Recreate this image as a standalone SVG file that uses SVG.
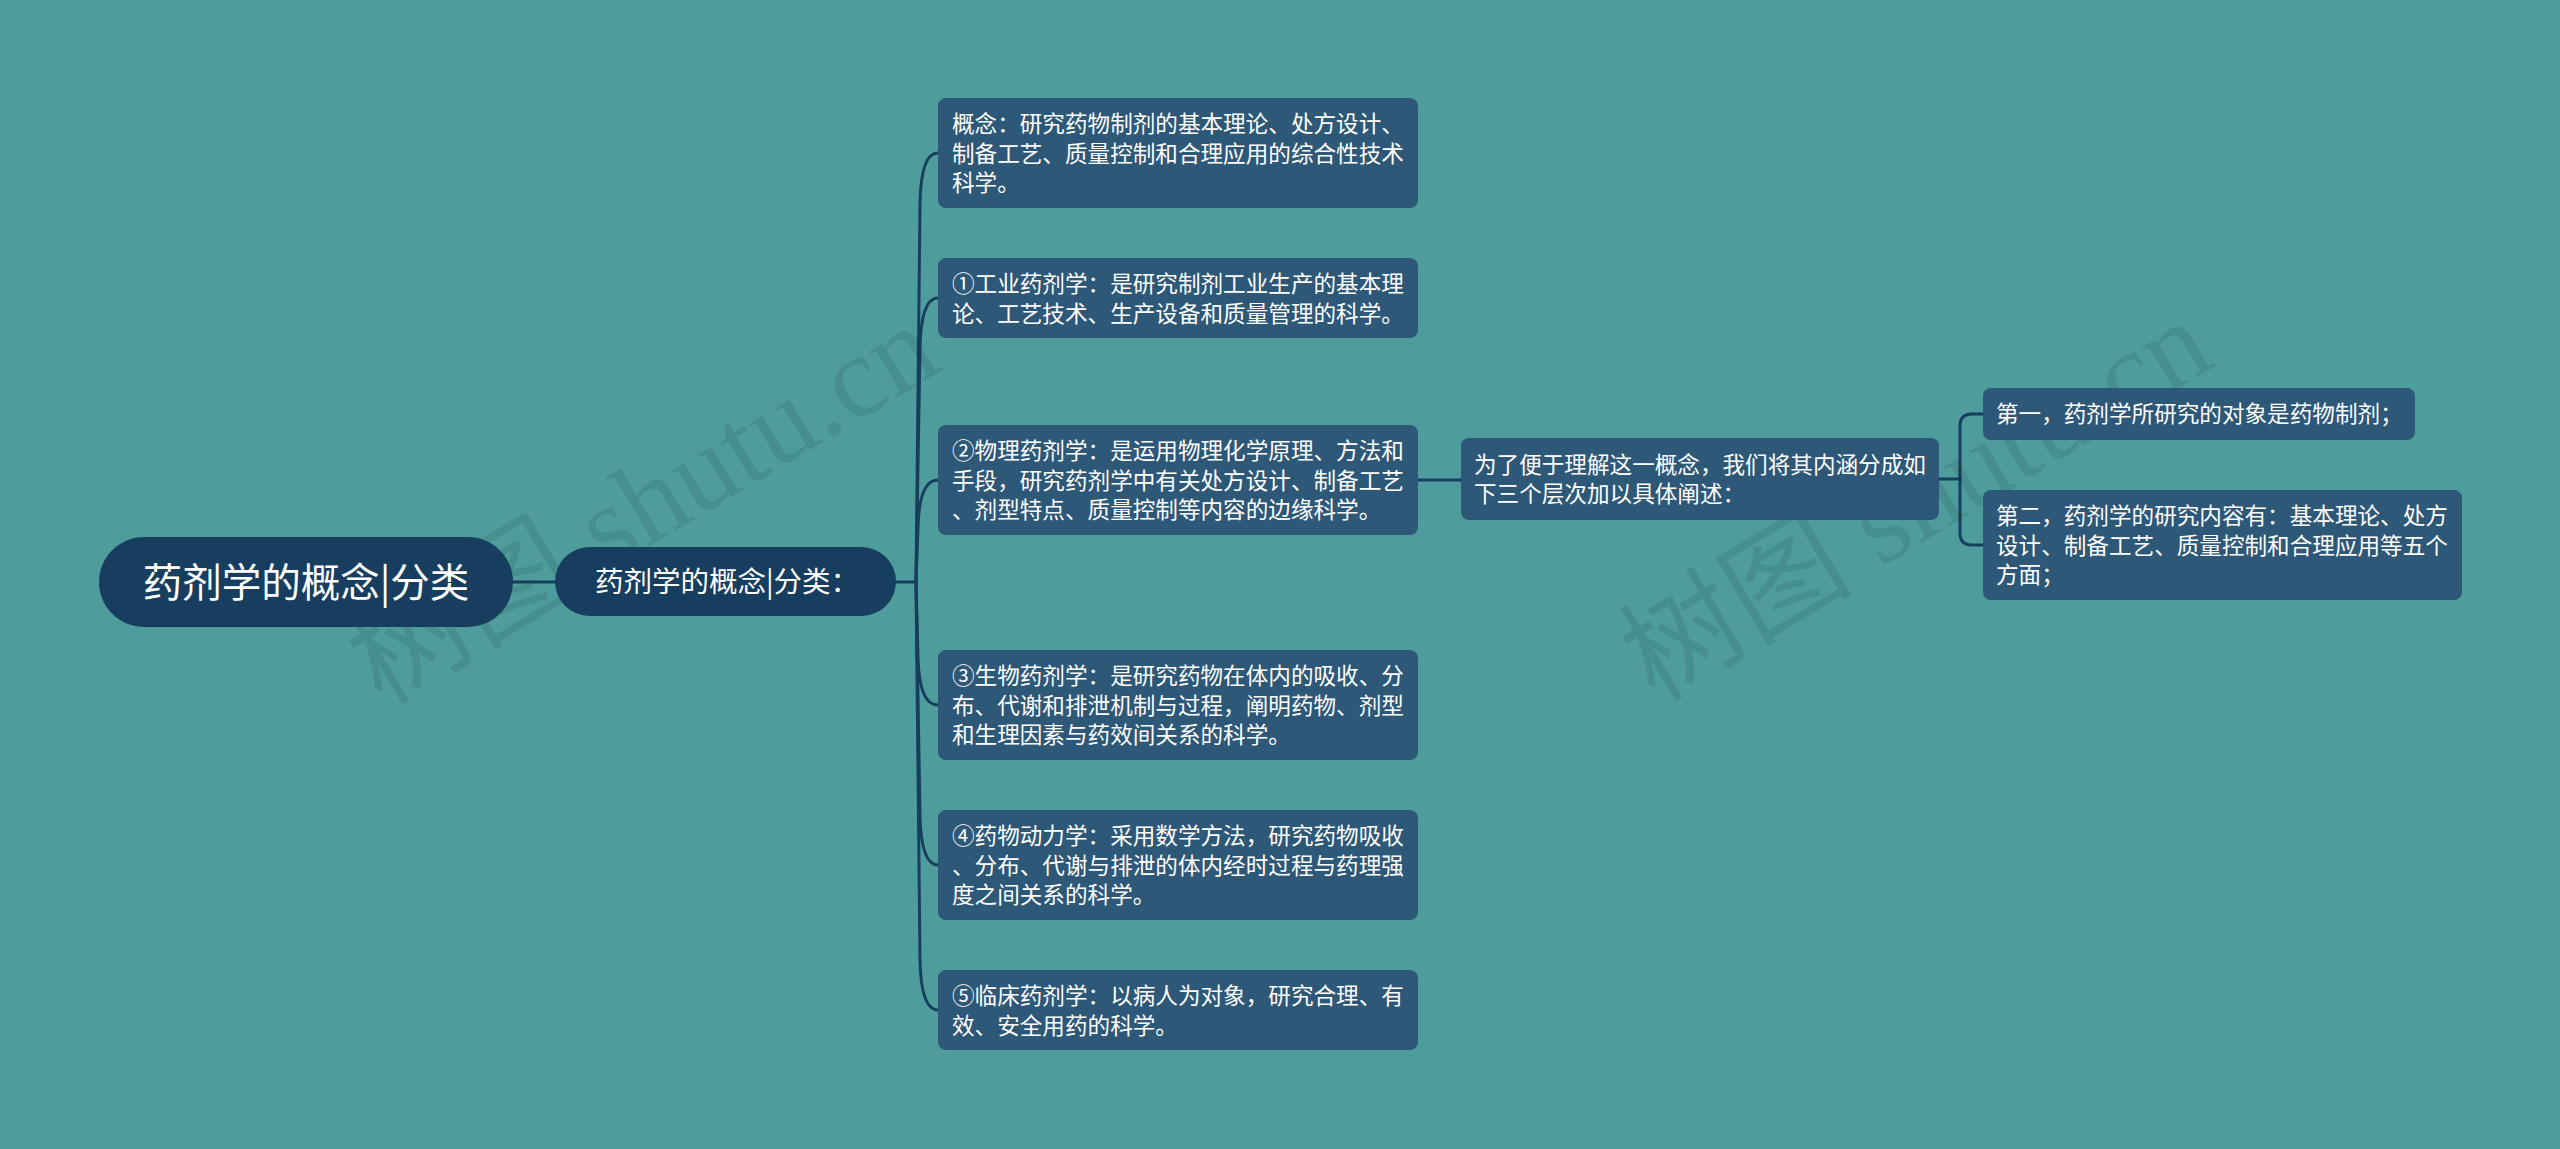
<svg xmlns="http://www.w3.org/2000/svg" width="2560" height="1149" viewBox="0 0 2560 1149">
<style>
.bg{fill:#4E9D9C}
.main{fill:#173E5E}
.box{fill:#2E5878}
.t{font-family:"Noto Sans CJK SC","Liberation Sans",sans-serif;fill:#FFFFFF}
.bt{font-size:22.6px}
.ln{fill:none;stroke:#173E5E;stroke-width:3;stroke-linecap:round}
.wm{font-family:"Liberation Serif","Noto Sans CJK SC",serif;font-size:117px;fill:#000000;fill-opacity:0.085}
</style>
<rect class="bg" x="0" y="0" width="2560" height="1149"/>

<g id="connectors">
<path class="ln" d="M512 582 L556 582"/>
<path class="ln" d="M896 582 L916 582"/>
<path class="ln" d="M916 582 L920 203 Q921 153 938 153"/>
<path class="ln" d="M916 582 L920 348 Q921 298 938 298"/>
<path class="ln" d="M916 582 L918 528 Q919 480 938 480"/>
<path class="ln" d="M916 582 L918 657 Q919 705 938 705"/>
<path class="ln" d="M916 582 L920 815 Q921 865 938 865"/>
<path class="ln" d="M916 582 L920 960 Q921 1010 938 1010"/>
<path class="ln" d="M1418 480 L1461 480"/>
<path class="ln" d="M1939 479 L1960 479 L1960 426 Q1960 414 1972 414 L1983 414"/>
<path class="ln" d="M1960 479 L1960 533 Q1960 545 1972 545 L1983 545"/>
</g>

<g id="watermark">
<text class="wm" x="663" y="538" text-anchor="middle" transform="rotate(-31 663 538)">树图 shutu.cn</text>
<text class="wm" x="1936" y="534" text-anchor="middle" transform="rotate(-31 1936 534)">树图 shutu.cn</text>
</g>

<g id="root">
<rect class="main" x="99" y="537" width="414" height="90" rx="45"/>
<text class="t" x="306" y="597" font-size="39.5" text-anchor="middle">药剂学的概念|分类</text>
</g>

<g id="n1">
<rect class="main" x="555" y="547" width="341" height="69" rx="34.5"/>
<text class="t" x="727" y="592" font-size="28.5" text-anchor="middle">药剂学的概念|分类：</text>
</g>

<g id="c0">
<rect class="box" x="938" y="98" width="480" height="110" rx="8"/>
<text class="t bt" x="952"><tspan x="952" y="132">概念：研究药物制剂的基本理论、处方设计、</tspan><tspan x="952" y="161.5">制备工艺、质量控制和合理应用的综合性技术</tspan><tspan x="952" y="191">科学。</tspan></text>
</g>

<g id="c1">
<rect class="box" x="938" y="258" width="480" height="80" rx="8"/>
<text class="t bt"><tspan x="952" y="292">①工业药剂学：是研究制剂工业生产的基本理</tspan><tspan x="952" y="321.5">论、工艺技术、生产设备和质量管理的科学。</tspan></text>
</g>

<g id="c2">
<rect class="box" x="938" y="425" width="480" height="110" rx="8"/>
<text class="t bt"><tspan x="952" y="459">②物理药剂学：是运用物理化学原理、方法和</tspan><tspan x="952" y="488.5">手段，研究药剂学中有关处方设计、制备工艺</tspan><tspan x="952" y="518">、剂型特点、质量控制等内容的边缘科学。</tspan></text>
</g>

<g id="c3">
<rect class="box" x="938" y="650" width="480" height="110" rx="8"/>
<text class="t bt"><tspan x="952" y="684">③生物药剂学：是研究药物在体内的吸收、分</tspan><tspan x="952" y="713.5">布、代谢和排泄机制与过程，阐明药物、剂型</tspan><tspan x="952" y="743">和生理因素与药效间关系的科学。</tspan></text>
</g>

<g id="c4">
<rect class="box" x="938" y="810" width="480" height="110" rx="8"/>
<text class="t bt"><tspan x="952" y="844">④药物动力学：采用数学方法，研究药物吸收</tspan><tspan x="952" y="873.5">、分布、代谢与排泄的体内经时过程与药理强</tspan><tspan x="952" y="903">度之间关系的科学。</tspan></text>
</g>

<g id="c5">
<rect class="box" x="938" y="970" width="480" height="80" rx="8"/>
<text class="t bt"><tspan x="952" y="1004">⑤临床药剂学：以病人为对象，研究合理、有</tspan><tspan x="952" y="1033.5">效、安全用药的科学。</tspan></text>
</g>

<g id="d0">
<rect class="box" x="1461" y="438" width="478" height="82" rx="8"/>
<text class="t bt"><tspan x="1474" y="472.5">为了便于理解这一概念，我们将其内涵分成如</tspan><tspan x="1474" y="502">下三个层次加以具体阐述：</tspan></text>
</g>

<g id="e0">
<rect class="box" x="1983" y="388" width="432" height="52" rx="8"/>
<text class="t bt" x="1996" y="422">第一，药剂学所研究的对象是药物制剂；</text>
</g>

<g id="e1">
<rect class="box" x="1983" y="490" width="479" height="110" rx="8"/>
<text class="t bt"><tspan x="1996" y="524">第二，药剂学的研究内容有：基本理论、处方</tspan><tspan x="1996" y="553.5">设计、制备工艺、质量控制和合理应用等五个</tspan><tspan x="1996" y="583">方面；</tspan></text>
</g>
</svg>
